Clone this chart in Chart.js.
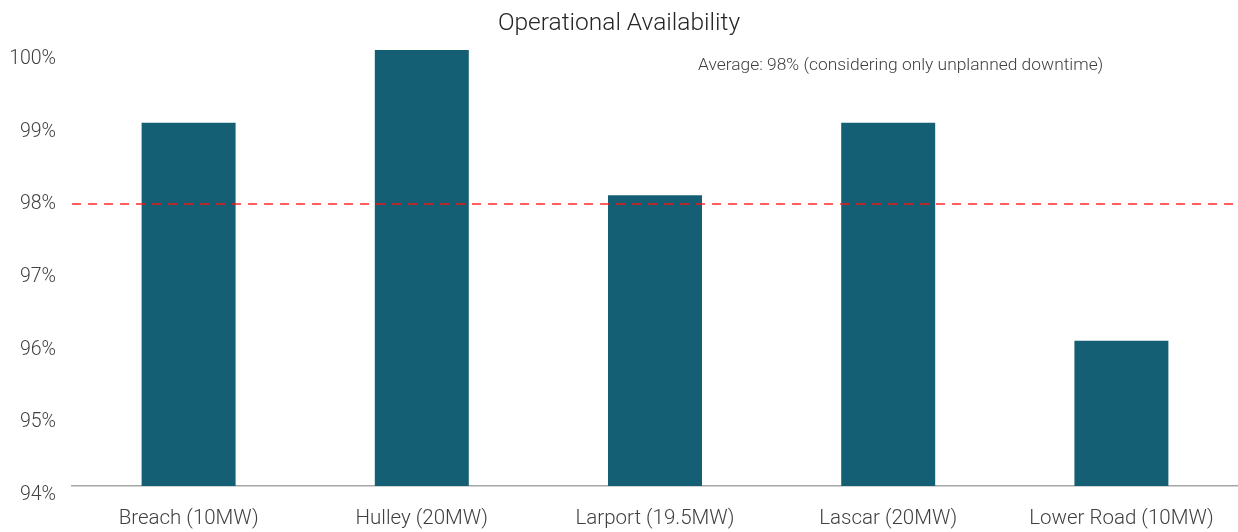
<!DOCTYPE html>
<html>
<head>
<meta charset="utf-8">
<script src="https://cdn.jsdelivr.net/npm/chart.js@4/dist/chart.umd.min.js"></script>
<style>
html,body{margin:0;padding:0;background:#fff;}
#wrap{width:1238px;height:532px;position:relative;}
</style>
</head>
<body>
<div id="wrap"><canvas id="c" width="1238" height="532"></canvas></div>
<script>
const categories = ["Breach (10MW)", "Hulley (20MW)", "Larport (19.5MW)", "Lascar (20MW)", "Lower Road (10MW)"];
const availability = [99, 100, 98, 99, 96];
const averageValue = 97.88;
const averageNote = "Average: 98% (considering only unplanned downtime)";
const yTicks = [94, 95, 96, 97, 98, 99, 100];

const FONT = "Roboto, 'Open Sans', sans-serif";

const avgPlugin = {
  id: 'avgLine',
  afterDatasetsDraw(chart) {
    const {ctx, chartArea, scales} = chart;
    const y = scales.y.getPixelForValue(averageValue);
    ctx.save();
    ctx.strokeStyle = 'rgba(255,20,20,0.9)';
    ctx.lineWidth = 1.5;
    ctx.setLineDash([9, 7]);
    ctx.beginPath();
    ctx.moveTo(chartArea.left, y);
    ctx.lineTo(chartArea.right, y);
    ctx.stroke();
    ctx.setLineDash([]);
    ctx.fillStyle = '#404040';
    ctx.font = "300 17.4px " + FONT;
    ctx.textBaseline = 'middle';
    ctx.textAlign = 'left';
    ctx.fillText(averageNote, 698, 66);
    ctx.restore();
  }
};

new Chart(document.getElementById('c'), {
  type: 'bar',
  data: {
    labels: categories,
    datasets: [{
      data: availability,
      backgroundColor: '#145f74',
      borderWidth: 0,
      barPercentage: 0.403,
      categoryPercentage: 1.0
    }]
  },
  options: {
    responsive: false,
    animation: false,
    devicePixelRatio: 1,
    layout: {padding: {left: 0, right: 0, top: 0, bottom: 0}},
    plugins: {
      legend: {display: false},
      tooltip: {enabled: false},
      title: {
        display: true,
        text: 'Operational Availability',
        color: '#262626',
        font: {family: FONT, size: 24.5, weight: 300},
        padding: {top: 9.3, bottom: 11.3}
      }
    },
    scales: {
      x: {
        grid: {display: false, drawTicks: false},
        border: {display: true, color: '#a6a6a6', width: 1.5},
        ticks: {color: '#404040', font: {family: FONT, size: 20.5, weight: 300}, padding: 20.5, maxRotation: 0},
        afterFit(s) { s.height = 46; }
      },
      y: {
        min: 94,
        max: 100,
        afterBuildTicks(s) { s.ticks = yTicks.map(v => ({value: v})); },
        grid: {display: false, drawTicks: false},
        border: {display: false},
        ticks: {
          color: '#404040',
          font: {family: FONT, size: 19.5, weight: 300},
          padding: 16,
          labelOffset: 9,
          callback: v => v + '%'
        },
        afterFit(s) { s.width = 72; }
      }
    }
  },
  plugins: [avgPlugin]
});
</script>
</body>
</html>
